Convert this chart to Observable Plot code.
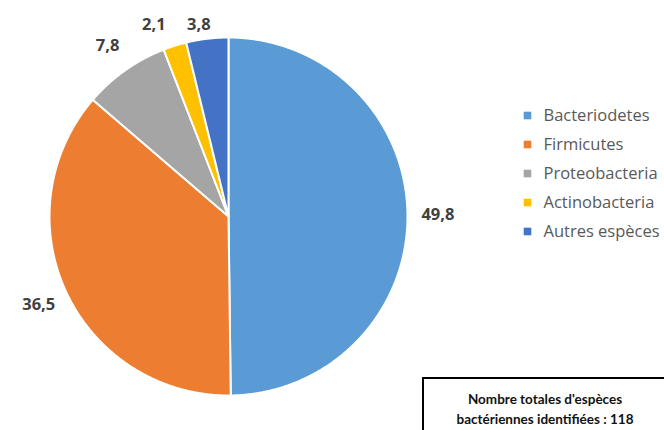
<!DOCTYPE html>
<html>
<head>
<meta charset="utf-8">
<script src="https://cdn.jsdelivr.net/npm/d3@7"></script>
<script src="https://cdn.jsdelivr.net/npm/@observablehq/plot@0.6"></script>
<style>
  html, body { margin: 0; padding: 0; background: #fff; overflow: hidden; }
  #wrap { position: relative; width: 664px; height: 430px; overflow: hidden; }
  #box { position: absolute; left: 422px; top: 377px; width: 280px; height: 80px;
         border: 2px solid #000; box-sizing: border-box; background: #fff;
         font-family: Lato, "Open Sans", sans-serif; font-weight: bold; font-size: 13.5px; color: #111; }
  #box div { width: 242px; text-align: center; line-height: 20px; padding-top: 10px; }
</style>
</head>
<body>
<div id="wrap"></div>
<script>
const categories = ["Bacteriodetes", "Firmicutes", "Proteobacteria", "Actinobacteria", "Autres espèces"];
const values = [49.8, 36.5, 7.8, 2.1, 3.8];
const valueLabels = ["49,8", "36,5", "7,8", "2,1", "3,8"];
const colors = ["#5B9BD5", "#ED7D31", "#A5A5A5", "#FFC000", "#4472C4"];
const boxLines = ["Nombre totales d'espèces", "bactériennes identifiées : 118"];

// layout (pixels)
const W = 664, H = 430, cx = 228, cy = 216, R = 179;

const arcs = d3.pie().sort(null).value(d => d)(values);

// slice outlines in unit-circle coordinates
const slicePts = [];
arcs.forEach((a, i) => {
  const name = categories[i];
  slicePts.push({name, x: 0, y: 0});
  const n = Math.max(2, Math.ceil((a.endAngle - a.startAngle) / 0.005));
  for (let k = 0; k <= n; k++) {
    const t = a.startAngle + (a.endAngle - a.startAngle) * k / n;
    slicePts.push({name, x: Math.sin(t), y: Math.cos(t)});
  }
  slicePts.push({name, x: 0, y: 0});
});

const topLimit = (cy - 24) / R;
const labelPts = arcs.map((a, i) => {
  const m = (a.startAngle + a.endAngle) / 2;
  const lr = 1.17;
  let x = Math.sin(m) * lr, y = Math.cos(m) * lr;
  if (y > topLimit) { x = Math.sin(m) * (lr + 0.22); y = topLimit; }
  return {text: valueLabels[i], x, y};
});

const legendX = (527 - cx) / R;
const legendY = i => (cy - (115 + i * 29)) / R;

const chart = Plot.plot({
  width: W, height: H, margin: 0,
  style: {fontFamily: "'Open Sans', Lato, sans-serif", background: "transparent"},
  x: {domain: [-cx / R, (W - cx) / R], axis: null},
  y: {domain: [-(H - cy) / R, cy / R], axis: null},
  color: {domain: categories, range: colors},
  marks: [
    Plot.line(slicePts, {x: "x", y: "y", z: "name", fill: "name", stroke: "white", strokeWidth: 2, strokeLinejoin: "round"}),
    Plot.text(labelPts, {x: "x", y: "y", text: "text", fontSize: 16.5, fontWeight: "bold", fill: "#404040"}),
    Plot.dot(categories, {x: () => legendX, y: (d, i) => legendY(i), symbol: "square", r: 4.3, fill: d => d, stroke: null}),
    Plot.text(categories, {x: () => legendX, y: (d, i) => legendY(i), text: d => d, dx: 16, textAnchor: "start", fontSize: 16.5, fill: "#595959"})
  ]
});

const wrap = document.getElementById("wrap");
wrap.appendChild(chart);
const box = document.createElement("div");
box.id = "box";
const inner = document.createElement("div");
inner.innerHTML = boxLines.join("<br>");
box.appendChild(inner);
wrap.appendChild(box);
</script>
</body>
</html>
